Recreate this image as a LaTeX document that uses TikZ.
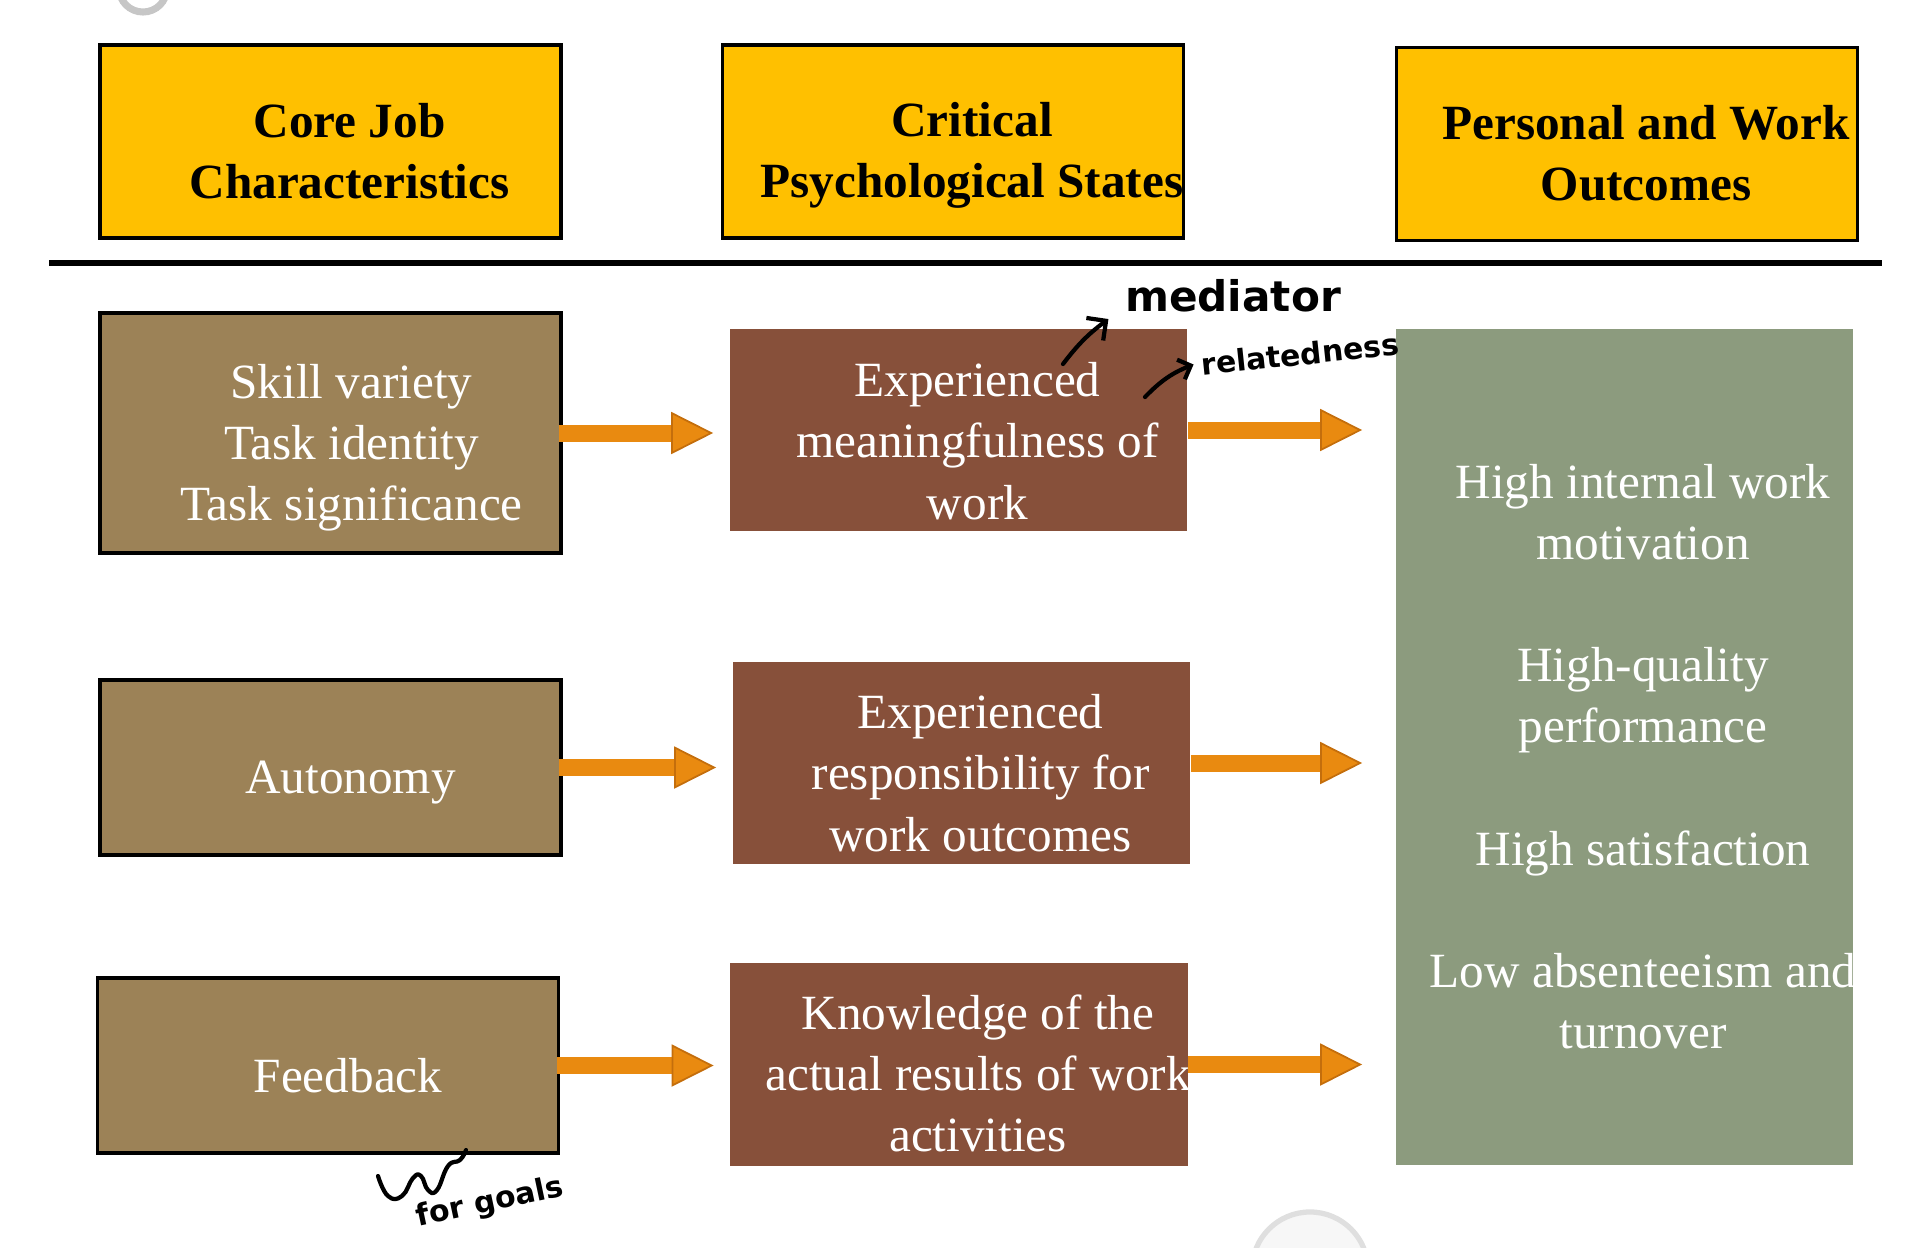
\documentclass[tikz,border=0pt]{standalone}
\usepackage{fontspec}
\setmainfont{Liberation Serif}
\newfontfamily\handfont{DejaVu Sans}
\usetikzlibrary{arrows.meta, positioning, calc}
\definecolor{headyellow}{HTML}{FFC000}
\definecolor{corebrown}{HTML}{9C8257}
\definecolor{staterust}{HTML}{87503A}
\definecolor{outcomesage}{HTML}{8C9B7E}
\definecolor{arroworange}{HTML}{E98A10}
\definecolor{arrowedge}{HTML}{C46E0C}
\tikzset{
  headbox/.style={draw=black, line width=1pt, fill=headyellow,
    minimum width=4.61cm, minimum height=1.93cm},
  corebox/.style={draw=black, line width=1pt, fill=corebrown,
    minimum width=4.61cm},
  statebox/.style={fill=staterust, minimum width=4.57cm, minimum height=2.02cm},
  headtext/.style={font=\fontsize{14pt}{17.4pt}\selectfont\bfseries,
    align=center, inner sep=0pt},
  bodytext/.style={text=white, font=\fontsize{14pt}{17.4pt}\selectfont,
    align=center, inner sep=0pt},
  fatarrow/.style={arroworange, line width=0.17cm,
    -{Triangle[length=0.42cm, width=0.42cm, line width=0.5pt,
      color=arrowedge, fill=arroworange]}},
  hand/.style={font=\handfont\bfseries\fontsize{12pt}{14pt}\selectfont, inner sep=0pt},
  smallhand/.style={hand, font=\handfont\bfseries\fontsize{8.5pt}{10pt}\selectfont},
  handline/.style={line width=1.2pt, line cap=round, line join=round}
}
\begin{document}
\begin{tikzpicture}[x=0.01cm, y=-0.01cm]
  \useasboundingbox (0,0) rectangle (1920,1247);
  \draw[gray!45, line width=2pt] (143,-12) circle[radius=0.24cm];
  \draw[gray!25, fill=gray!6, line width=1.5pt] (1310,1270) circle[radius=0.58cm];

  \node[headbox] (h1) at (330.5,141.5) {};
  \node[headbox] (h2) at (953,141.5) {};
  \node[headbox] (h3) at (1627,144) {};
  \node[headtext] at ([shift={(19,10)}]h1.center) {Core Job\\Characteristics};
  \node[headtext] at ([shift={(19,14)}]h2.center) {Critical\\Psychological States};
  \node[headtext] at ([shift={(19,9)}]h3.center) {Personal and Work\\Outcomes};

  \coordinate (ruleL) at (49,263);
  \coordinate (ruleR) at (1882,263);
  \draw[line width=1.5pt] (ruleL) -- (ruleR);

  \node[corebox, minimum height=2.40cm] (l1) at (330.5,433) {};
  \node[corebox, minimum height=1.75cm] (l2) at (330.5,767.5) {};
  \node[corebox, minimum height=1.75cm] (l3) at (328,1065.5) {};
  \node[statebox] (m1) at (958.5,430) {};
  \node[statebox] (m2) at (961.5,763) {};
  \node[statebox] (m3) at (959,1064.5) {};
  \node[fill=outcomesage, minimum width=4.57cm, minimum height=8.36cm] (out) at (1624.5,747) {};

  \node[bodytext] at ([shift={(21,15)}]l1.center) {Skill variety\\Task identity\\Task significance};
  \node[bodytext] at ([shift={(20,15)}]l2.center) {Autonomy};
  \node[bodytext] at ([shift={(20,10)}]l3.center) {Feedback};
  \node[bodytext] at ([shift={(19,11)}]m1.center) {Experienced\\meaningfulness of\\work};
  \node[bodytext] at ([shift={(19,10)}]m2.center) {Experienced\\responsibility for\\work outcomes};
  \node[bodytext] at ([shift={(19,9)}]m3.center) {Knowledge of the\\actual results of work\\activities};
  \begin{scope}
    \clip (out.north west) rectangle (out.south east);
    \node[bodytext] (o1) at (1643,512.5) {High internal work\\motivation};
    \node[bodytext] (o2) at (1643,700.5) {High-quality\\performance};
    \node[bodytext] (o3) at (1643,853) {High satisfaction};
    \node[bodytext] (o4) at (1643,1001.5) {Low absenteeism and\\turnover};
  \end{scope}

  \draw[fatarrow, shorten <=-1pt, shorten >=0.16cm] (l1.east) -- (l1.east -| m1.west);
  \draw[fatarrow, shorten <=-1pt, shorten >=0.16cm] (l2.east) -- (l2.east -| m2.west);
  \draw[fatarrow, shorten <=-1pt, shorten >=0.16cm] (l3.east) -- (l3.east -| m3.west);
  \draw[fatarrow, shorten >=0.33cm] (m1.east) -- (m1.east -| out.west);
  \draw[fatarrow, shorten >=0.33cm] (m2.east) -- (m2.east -| out.west);
  \draw[fatarrow, shorten >=0.33cm] (m3.east) -- (m3.east -| out.west);

  \node[hand] (mediator) at (1233,296) {mediator};
  \node[smallhand, rotate=6] (related) at (1300,354) {relatedness};
  \node[smallhand, rotate=12] (goals) at (490,1203) {for goals};
  \coordinate (medtail) at (1063,364);
  \coordinate (reltail) at (1145,397);
  \draw[handline, -{Straight Barb[length=4pt]}] (medtail) to[bend left=8] ([shift={(-16,6)}]mediator.south west);
  \draw[handline, -{Straight Barb[length=3pt]}] (reltail) to[bend left=12] ([xshift=-2pt]related.west);
  \draw[handline] plot[smooth, tension=0.8] coordinates {(378,1176) (388,1196) (402,1196) (413,1178) (421,1176) (428,1190) (437,1190) (448,1166) (460,1160) (466,1150)};
\end{tikzpicture}
\end{document}
